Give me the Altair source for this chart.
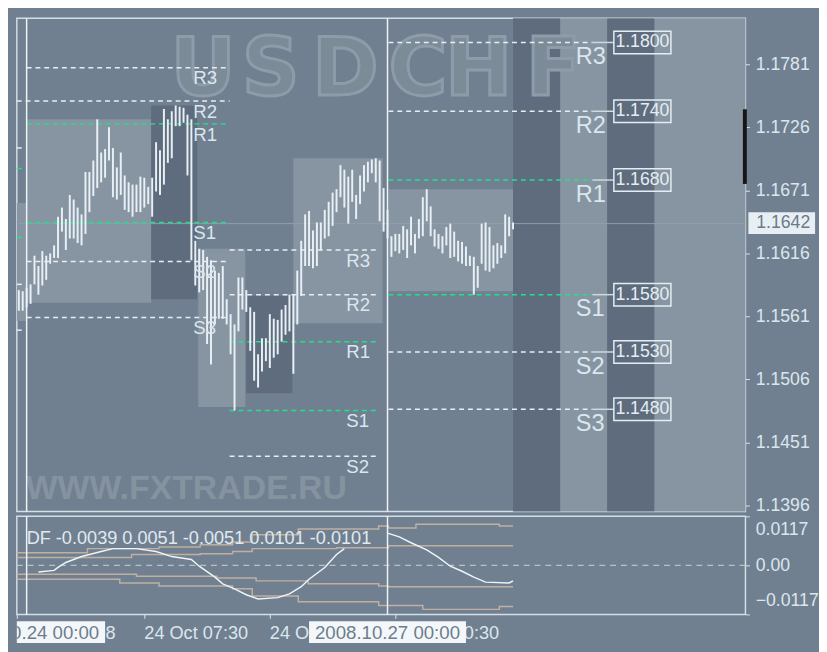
import altair as alt
import pandas as pd

# ---------------- values ----------------
bar_index = list(range(127))
bar_high = [1.1584, 1.1583, 1.1586, 1.1589, 1.1614, 1.1605, 1.1618, 1.1614, 1.1616, 1.1623,
            1.1648, 1.1656, 1.1646, 1.1667, 1.1663, 1.1656, 1.1650, 1.1687, 1.1687, 1.1697,
            1.1733, 1.1704, 1.1707, 1.1726, 1.1708, 1.1691, 1.1704, 1.1684, 1.1678, 1.1676,
            1.1676, 1.1683, 1.1682, 1.1674, 1.1682, 1.1713, 1.1706, 1.1742, 1.1733, 1.1740,
            1.1745, 1.1744, 1.1743, 1.1737, 1.1733, 1.1627, 1.1620, 1.1619, 1.1613, 1.1610,
            1.1601, 1.1599, 1.1605, 1.1576, 1.1563, 1.1554, 1.1595, 1.1595, 1.1584, 1.1569,
            1.1565, 1.1528, 1.1542, 1.1542, 1.1563, 1.1559, 1.1558, 1.1567, 1.1571, 1.1580,
            1.1580, 1.1601, 1.1627, 1.1650, 1.1653, 1.1636, 1.1643, 1.1643, 1.1654, 1.1661,
            1.1669, 1.1672, 1.1693, 1.1689, 1.1683, 1.1689, 1.1667, 1.1684, 1.1693, 1.1696,
            1.1698, 1.1699, 1.1697, 1.1673, 1.1654, 1.1631, 1.1633, 1.1633, 1.1640, 1.1637,
            1.1648, 1.1633, 1.1646, 1.1665, 1.1672, 1.1657, 1.1637, 1.1633, 1.1631, 1.1639,
            1.1642, 1.1635, 1.1627, 1.1626, 1.1622, 1.1614, 1.1613, 1.1605, 1.1642, 1.1643,
            1.1639, 1.1623, 1.1625, 1.1623, 1.1650, 1.1648, 1.1643]
bar_low = [1.1566, 1.1566, 1.1569, 1.1572, 1.1589, 1.1580, 1.1588, 1.1593, 1.1607, 1.1612,
           1.1612, 1.1635, 1.1619, 1.1629, 1.1629, 1.1625, 1.1623, 1.1633, 1.1652, 1.1666,
           1.1673, 1.1678, 1.1682, 1.1697, 1.1665, 1.1663, 1.1667, 1.1654, 1.1652, 1.1648,
           1.1652, 1.1652, 1.1656, 1.1659, 1.1648, 1.1670, 1.1667, 1.1676, 1.1695, 1.1699,
           1.1727, 1.1727, 1.1730, 1.1684, 1.1610, 1.1588, 1.1582, 1.1584, 1.1537, 1.1519,
           1.1554, 1.1559, 1.1559, 1.1554, 1.1528, 1.1479, 1.1548, 1.1567, 1.1565, 1.1531,
           1.1505, 1.1499, 1.1513, 1.1522, 1.1516, 1.1525, 1.1528, 1.1539, 1.1545, 1.1548,
           1.1511, 1.1554, 1.1579, 1.1605, 1.1605, 1.1603, 1.1605, 1.1619, 1.1629, 1.1631,
           1.1640, 1.1652, 1.1665, 1.1656, 1.1642, 1.1661, 1.1646, 1.1659, 1.1670, 1.1678,
           1.1686, 1.1678, 1.1644, 1.1635, 1.1629, 1.1613, 1.1618, 1.1616, 1.1619, 1.1612,
           1.1623, 1.1616, 1.1629, 1.1631, 1.1644, 1.1631, 1.1622, 1.1620, 1.1616, 1.1623,
           1.1612, 1.1613, 1.1609, 1.1607, 1.1605, 1.1605, 1.1580, 1.1586, 1.1607, 1.1601,
           1.1600, 1.1603, 1.1607, 1.1612, 1.1616, 1.1631, 1.1637]

price_ticks = [1.1781, 1.1726, 1.1671, 1.1616, 1.1561, 1.1506, 1.1451, 1.1396]
bid_price = 1.1642

# pivot levels (three days)
left_names = ["R3", "R2", "R1", "S1", "S2", "S3"]
left_levels = [1.1778, 1.1749, 1.1729, 1.1643, 1.1609, 1.1560]
left_start = [2, -0.5, 2, 2, 2, 2]
mid_names = ["R3", "R2", "R1", "S1", "S2"]
mid_levels = [1.1619, 1.1580, 1.1539, 1.1479, 1.1439]
right_names = ["R3", "R2", "R1", "S1", "S2", "S3"]
right_levels = [1.1800, 1.1740, 1.1680, 1.1580, 1.1530, 1.1480]
right_texts = ["1.1800", "1.1740", "1.1680", "1.1580", "1.1530", "1.1480"]
prev_levels = [1.1708, 1.1690, 1.1630, 1.1589, 1.1549]
prev_kind = ["w", "g", "g", "w", "w"]

# session boxes
box_start = [-0.5, 2, 33.75, 45.75, 58, 70, 94.25]
box_end = [2, 33.75, 45.5, 57.75, 69.75, 92.75, 126]
box_top = [1.1660, 1.1733, 1.1745, 1.1620, 1.1579, 1.1699, 1.1672]
box_bottom = [1.1557, 1.1573, 1.1576, 1.1482, 1.1494, 1.1555, 1.1583]
box_kind = ["light", "light", "dark", "light", "dark", "light", "light"]

band_start = [126, 138, 150, 162]
band_end = [138, 150, 162, 185.25]
band_kind = ["dark", "light", "dark", "light"]

# watermark letters and their bar positions
wm_letters = ["U", "S", "D", "C", "H", "F"]
wm_index = [47, 64.25, 83.25, 101.75, 117.25, 136.25]

# indicator (DF) values
df_a_index = [5, 9, 10, 12, 16, 21, 24, 30, 35, 39, 44, 46, 50, 52, 55, 58, 61, 66, 69, 72, 74, 78, 81, 83]
df_a_value = [-0.0016, -0.0012, -0.0005, 0.0007, 0.0021, 0.0033, 0.0040, 0.0040, 0.0033, 0.0021,
              0.0014, -0.0002, -0.0028, -0.0044, -0.0056, -0.0070, -0.0080, -0.0077, -0.0068,
              -0.0051, -0.0033, -0.0005, 0.0026, 0.0040]
df_b_index = [94, 97, 100, 104, 107, 110, 113, 116, 119, 125, 126]
df_b_value = [0.0077, 0.0068, 0.0054, 0.0037, 0.0019, -0.0002, -0.0014, -0.0028, -0.0040, -0.0042, -0.0037]

uo_start = [-0.5, 17.5, 35.75, 46.25, 54.5, 59.5, 71.25, 91.75, 94.25, 101.25, 122.5]
uo_value = [0.0030, 0.0040, 0.0044, 0.0049, 0.0056, 0.0073, 0.0087, 0.0094, 0.0089, 0.0098, 0.0094]
ui_start = [-0.5, 28.75, 46.25, 54.5, 59.5, 81, 94.25]
ui_value = [0.0019, 0.0026, 0.0028, 0.0033, 0.0040, 0.0042, 0.0047]
li_start = [-0.5, 30, 50.5, 60.5, 73.75, 91.75, 94.25]
li_value = [-0.0021, -0.0026, -0.0030, -0.0037, -0.0044, -0.0049, -0.0051]
lo_start = [-0.5, 25.75, 35.75, 54.5, 59.5, 71.25, 91.75, 103, 122.5]
lo_value = [-0.0033, -0.0042, -0.0049, -0.0056, -0.0073, -0.0087, -0.0096, -0.0105, -0.0098]
band_last = 126

df_header = "DF -0.0039 0.0051 -0.0051 0.0101 -0.0101"
ind_ticks = [0.0117, 0.0, -0.0117]

time_index = [-0.5, 32, 64, 96]
time_text = ["24 Oct 2008", "24 Oct 07:30", "24 Oct 15:30", "27 Oct 00:30"]
sep_index = [2, 94]
sep_text = ["2008.10.24 00:00", "2008.10.27 00:00"]

# ---------------- styling / layout ----------------
BG = "#708090"
LIGHT = "#8795a2"
DARK = "#5f6c7d"
WHITE = "#e6eef4"
GREEN = "#1fe38c"
TXT = "#dce6ee"
TAN = "#bfb0a2"
FONT = "Liberation Sans"
W = 743
X_DOM = [-0.5, 185.25]
P_DOM = [1.13909, 1.18212]
D_DOM = [-0.0117, 0.0117]

XS = alt.Scale(domain=X_DOM, nice=False, zero=False)
PS = alt.Scale(domain=P_DOM, nice=False, zero=False)
DS = alt.Scale(domain=D_DOM, nice=False, zero=False)

AXP = alt.Axis(orient="right", values=price_ticks, format=".4f", labelFontSize=18,
               labelColor=TXT, tickColor=TXT, tickSize=4, labelPadding=6,
               domain=False, grid=False, title=None, labelFont=FONT)


def X(f):
    return alt.X(f"{f}:Q", scale=XS, axis=None)


def P(f):
    return alt.Y(f"{f}:Q", scale=PS, axis=AXP)


# ---------------- main panel ----------------
bands = pd.DataFrame({"x0": band_start, "x1": band_end, "kind": band_kind,
                      "top": P_DOM[1], "bot": P_DOM[0]})
boxes = pd.DataFrame({"x0": box_start, "x1": box_end, "top": box_top,
                      "bot": box_bottom, "kind": box_kind})
rects = pd.concat([bands, boxes], ignore_index=True)
l_light = alt.Chart(rects).transform_filter("datum.kind == 'light'").mark_rect(
    color=LIGHT).encode(x=X("x0"), x2="x1", y=P("top"), y2="bot")
l_dark = alt.Chart(rects).transform_filter("datum.kind == 'dark'").mark_rect(
    color=DARK).encode(x=X("x0"), x2="x1", y=P("top"), y2="bot")

wm = pd.DataFrame({"x": wm_index, "p": 1.17545, "t": wm_letters})
l_wm1 = alt.Chart(wm).mark_text(font="DejaVu Sans", fontWeight="bold", fontSize=82,
                                align="center", baseline="alphabetic",
                                color="#7c8b98", stroke="#8e9caa", strokeWidth=3).encode(
    x=X("x"), y=P("p"), text="t:N")
wm2 = pd.DataFrame({"x": [1.75], "p": [1.1402], "t": ["WWW.FXTRADE.RU"]})
l_wm2 = alt.Chart(wm2).mark_text(font=FONT, fontWeight="bold", fontSize=34.5,
                                 align="left", baseline="alphabetic", color="#8593a0").encode(
    x=X("x"), y=P("p"), text="t:N")

bid = pd.DataFrame({"p": [bid_price]})
l_bid = alt.Chart(bid).mark_rule(color="#8f9eab", strokeWidth=1).encode(y=P("p"))

rows = []
for n, lv, s in zip(left_names, left_levels, left_start):
    rows.append({"x0": s, "x1": 53.75, "p": lv, "k": "g" if n in ("R1", "S1") else "w"})
for n, lv in zip(mid_names, mid_levels):
    rows.append({"x0": 53.75, "x1": 91.25, "p": lv, "k": "g" if n in ("R1", "S1") else "w"})
for n, lv in zip(right_names, right_levels):
    rows.append({"x0": 94.25, "x1": 146.25, "p": lv, "k": "g" if n in ("R1", "S1") else "w"})
for lv, k in zip(prev_levels, prev_kind):
    rows.append({"x0": -0.5, "x1": 0.75, "p": lv, "k": k})
pl = pd.DataFrame(rows)
l_piv_w = alt.Chart(pl).transform_filter("datum.k == 'w'").mark_rule(
    strokeDash=[5, 4], strokeWidth=1.5, color=WHITE).encode(x=X("x0"), x2="x1", y=P("p"))
l_piv_g = alt.Chart(pl).transform_filter("datum.k == 'g'").mark_rule(
    strokeDash=[5, 4], strokeWidth=1.5, color=GREEN).encode(x=X("x0"), x2="x1", y=P("p"))

conn = pd.DataFrame({"x0": 146.25, "x1": 151.7, "p": right_levels})
l_conn = alt.Chart(conn).mark_rule(color="#cfd9e0", strokeWidth=1.5).encode(
    x=X("x0"), x2="x1", y=P("p"))

bars = pd.DataFrame({"i": bar_index, "h": bar_high, "l": bar_low})
l_bars = alt.Chart(bars).mark_rule(color="#e8f0f6", strokeWidth=2).encode(
    x=X("i"), y=P("h"), y2="l")

lab_small = pd.DataFrame({
    "x": [44.5] * len(left_names) + [83.5] * len(mid_names),
    "p": left_levels + mid_levels,
    "t": left_names + mid_names})
l_lab1 = alt.Chart(lab_small).mark_text(font=FONT, fontSize=19, align="left", baseline="top",
                                        dy=2, color=TXT).encode(x=X("x"), y=P("p"), text="t:N")
lab_big = pd.DataFrame({"x": 142.0, "p": right_levels, "t": right_names})
l_lab2 = alt.Chart(lab_big).mark_text(font=FONT, fontSize=24, align="left", baseline="top",
                                      dy=3, color=TXT).encode(x=X("x"), y=P("p"), text="t:N")

pbox = pd.DataFrame({"x0": 151.7, "x1": 166.25, "xc": 158.97, "p": right_levels, "t": right_texts})
l_pbox = alt.Chart(pbox).transform_calculate(
    top="datum.p + 0.00098", bot="datum.p - 0.00098").mark_rect(
    fill="transparent", stroke="#e4edf3", strokeWidth=1.5).encode(
    x=X("x0"), x2="x1", y=P("top"), y2="bot")
l_ptxt = alt.Chart(pbox).mark_text(font=FONT, fontSize=18, align="center", baseline="middle",
                                   color="#e4edf3").encode(x=X("xc"), y=P("p"), text="t:N")

seps = pd.DataFrame({"i": sep_index})
l_sep = alt.Chart(seps).mark_rule(color="#eef3f7", strokeWidth=1.5).encode(x=X("i"))

bidbox = pd.DataFrame({"x0": [186.0], "x1": [203.0], "top": [1.16518], "bot": [1.16330],
                       "xt": [188.0], "p": [bid_price], "t": ["1.1642"]})
l_bidbox = alt.Chart(bidbox).mark_rect(fill="#e8eff4").encode(
    x=X("x0"), x2="x1", y=P("top"), y2="bot")
l_bidtxt = alt.Chart(bidbox).mark_text(font=FONT, fontSize=18, align="left", baseline="middle",
                                       color="#6b7a88").encode(x=X("xt"), y=P("p"), text="t:N")

blk = pd.DataFrame({"x": [185.1], "top": [1.17417], "bot": [1.16766]})
l_blk = alt.Chart(blk).mark_rule(color="#151515", strokeWidth=4).encode(
    x=X("x"), y=P("top"), y2="bot")

main = alt.layer(l_light, l_dark, l_wm1, l_wm2, l_bid, l_piv_w, l_piv_g, l_conn, l_bars,
                 l_lab1, l_lab2, l_pbox, l_ptxt, l_sep, l_bidbox, l_bidtxt, l_blk
                 ).properties(width=W, height=503)

# ---------------- indicator panel ----------------
AXD = alt.Axis(orient="right", values=ind_ticks,
               labelExpr="datum.value == 0 ? '0.00' : format(datum.value, '.4f')",
               labelFontSize=18, labelColor=TXT, tickColor=TXT, tickSize=4, labelPadding=6,
               labelFlush=True, labelFlushOffset=-5, domain=False, grid=False, title=None,
               labelFont=FONT)
AXT = alt.Axis(values=time_index, labels=False, ticks=True, tickSize=4, tickColor=TXT,
               domain=False, grid=False, title=None)


def D(f):
    return alt.Y(f"{f}:Q", scale=DS, axis=AXD)


def XT(f):
    return alt.X(f"{f}:Q", scale=XS, axis=AXT)


zero = pd.DataFrame({"v": [0.0]})
i_zero = alt.Chart(zero).mark_rule(color="#b7c1c9", strokeDash=[6, 5], strokeWidth=1.5).encode(
    y=D("v"))

brow = []
for name, st, vals in [("uo", uo_start, uo_value), ("ui", ui_start, ui_value),
                       ("li", li_start, li_value), ("lo", lo_start, lo_value)]:
    for s, v in zip(st, vals):
        brow.append({"b": name, "i": s, "v": v})
    brow.append({"b": name, "i": band_last, "v": vals[-1]})
bdf = pd.DataFrame(brow)
i_bands = alt.Chart(bdf).mark_line(color=TAN, strokeWidth=1.5, interpolate="step-after").encode(
    x=XT("i"), y=D("v"), detail="b:N")

dfl = pd.DataFrame({"seg": ["a"] * len(df_a_index) + ["b"] * len(df_b_index),
                    "i": df_a_index + df_b_index, "v": df_a_value + df_b_value})
i_df = alt.Chart(dfl).mark_line(color="#eef4f8", strokeWidth=1.5).encode(
    x=XT("i"), y=D("v"), detail="seg:N")

i_sep = alt.Chart(seps).mark_rule(color="#eef3f7", strokeWidth=1.5).encode(x=XT("i"))

hdr = pd.DataFrame({"x": [2.0], "v": [0.0066], "t": [df_header]})
i_hdr = alt.Chart(hdr).mark_text(font=FONT, fontSize=18.5, align="left", baseline="middle",
                                 color="#e0e9f0").encode(x=XT("x"), y=D("v"), text="t:N")

ind = alt.layer(i_zero, i_bands, i_df, i_sep, i_hdr).properties(width=W, height=100)

# ---------------- time label strip ----------------
SS = alt.Scale(domain=[0, 1], nice=False, zero=False)
tl = pd.DataFrame({"i": time_index, "t": time_text, "y": 0.5})
s_lab = alt.Chart(tl).mark_text(font=FONT, fontSize=18.5, align="left", baseline="middle",
                                color=TXT, clip=True).encode(
    x=X("i"), y=alt.Y("y:Q", scale=SS, axis=None), text="t:N")
hb = pd.DataFrame({"c": sep_index, "t": sep_text, "y": 0.5, "y0": 0.14, "y1": 0.93})
s_box = alt.Chart(hb).transform_calculate(x0="datum.c - 20", x1="datum.c + 20").mark_rect(
    fill="#f3f7fa", clip=True).encode(
    x=X("x0"), x2="x1", y=alt.Y("y0:Q", scale=SS, axis=None), y2="y1")
s_txt = alt.Chart(hb).mark_text(font=FONT, fontSize=19, align="center", baseline="middle",
                                color="#6d7d8c", clip=True).encode(
    x=X("c"), y=alt.Y("y:Q", scale=SS, axis=None), text="t:N")

strip = alt.layer(s_lab, s_box, s_txt).properties(
    width=W, height=28, view=alt.ViewBackground(strokeOpacity=0))

chart = alt.vconcat(main, ind, strip, spacing=5, bounds="flush").properties(
    padding={"left": 5, "top": 2, "right": 0, "bottom": 1}
).configure(background=BG).configure_view(stroke="#d3dee6", strokeWidth=1.5)

chart.save("out.html", embed_options={"renderer": "svg", "actions": False})
